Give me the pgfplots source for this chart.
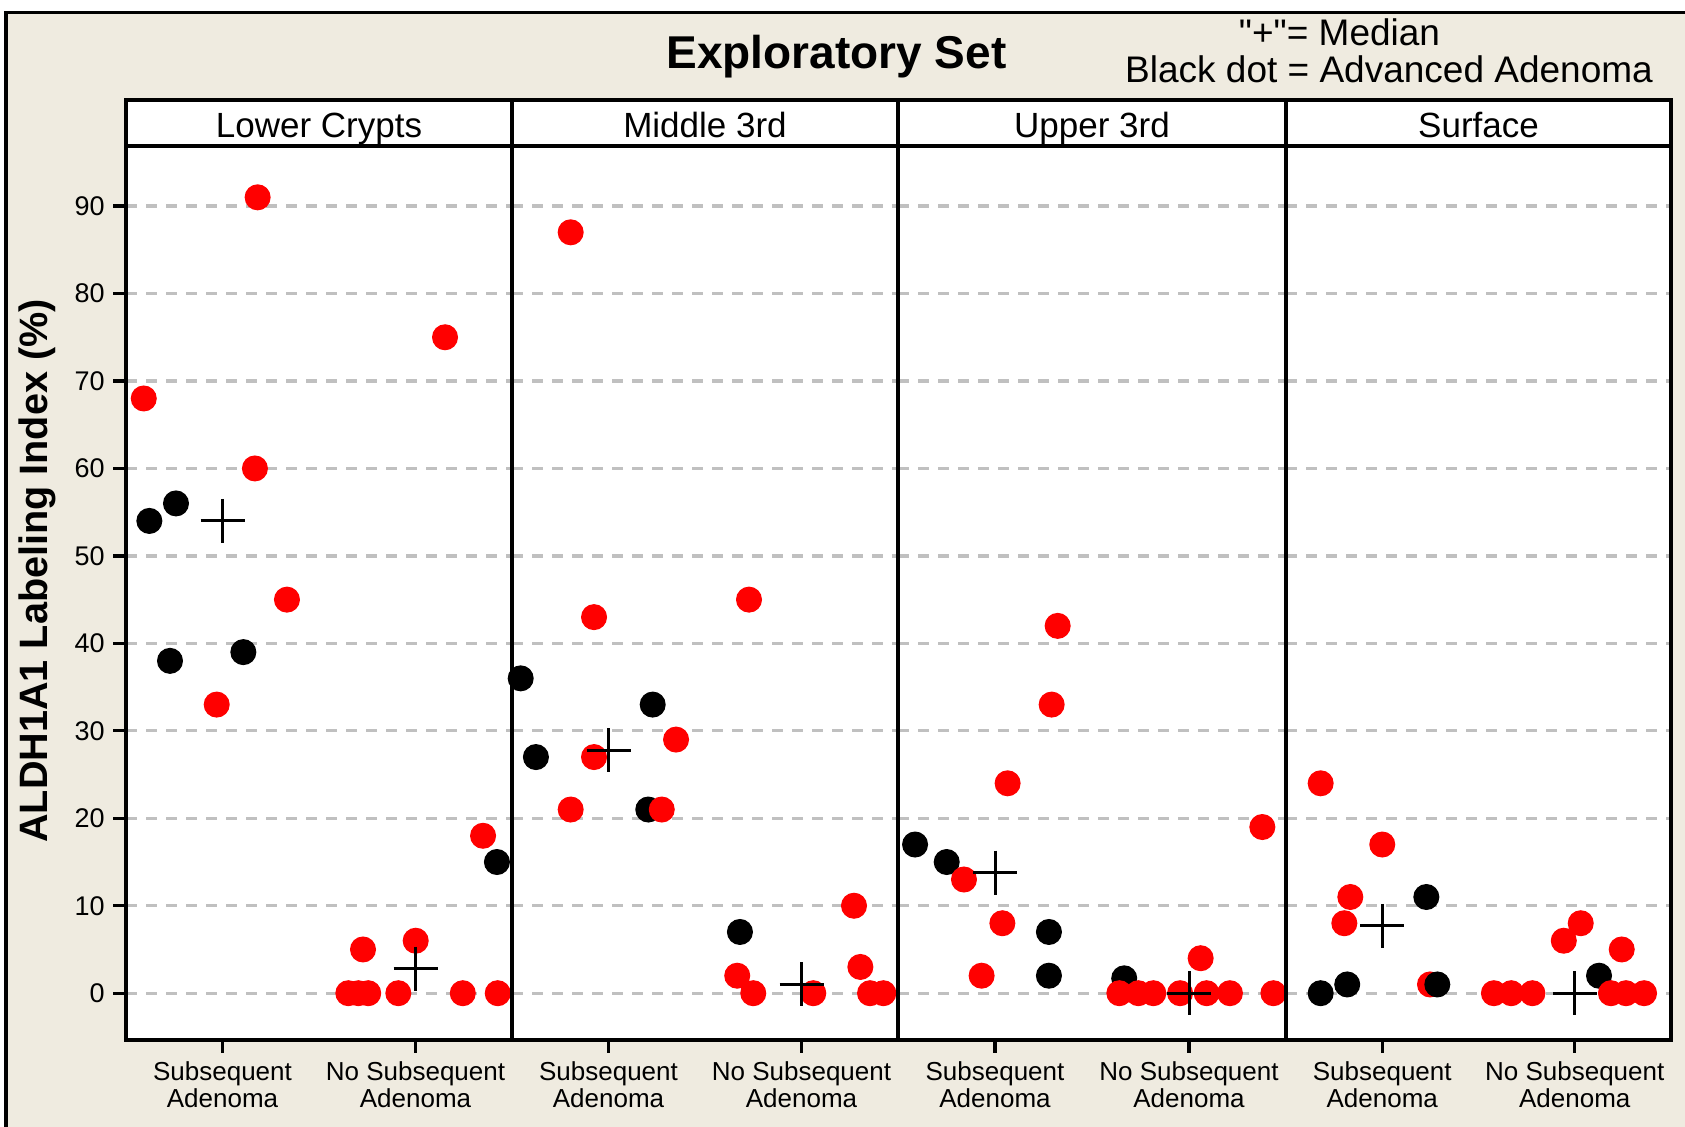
\documentclass[border=0pt]{standalone}
\usepackage{fontspec}
\setmainfont{Liberation Sans}[Ligatures=TeXOff]
\usepackage{pgfplots}
\pgfplotsset{compat=1.18}
\usetikzlibrary{calc}
\definecolor{bg}{RGB}{239,235,224}
\definecolor{gridgray}{RGB}{192,192,192}
\pgfplotsset{
  panel/.style={
    scale only axis, height=447pt, anchor=south west,
    xmin=0.5, xmax=2.5, ymin=-5.35, ymax=96.87,
    line width=1.7pt,
    axis line style={line width=1.7pt},
    axis background/.style={fill=white},
    xtick={1,2},
    xticklabels={{Subsequent\\Adenoma},{No Subsequent\\Adenoma}},
    xticklabel style={align=center, font=\fontsize{13}{13.5}\selectfont},
    ytick={0,10,...,90},
    ymajorgrids,
    major grid style={gridgray, line width=1.6pt, dash pattern=on 5.5pt off 4.5pt},
    tick align=outside, major tick length=6.5pt,
    tick style={black, line width=1.6pt},
    xtick pos=bottom, ytick pos=left,
    /pgf/number format/assume math mode=true,
    yticklabel style={font=\fontsize{13.5}{14}\selectfont},
  },
  noy/.style={yticklabels={}, ytick style={draw=none}},
  reddot/.style={only marks, color=red, mark=*, mark size=6.2pt, mark options={draw=red, fill=red, line width=0.6pt}},
  blackdot/.style={only marks, color=black, mark=*, mark size=6.2pt, mark options={draw=black, fill=black, line width=0.6pt}},
  median/.style={only marks, color=black, mark=+, mark size=11pt, mark options={line width=1.5pt, draw=black}},
}
\begin{document}
\begin{tikzpicture}
\path[use as bounding box, fill=white] (0,0) rectangle (842.5pt,563.5pt);
\fill[bg] (3pt,0) rectangle (842.5pt,557.2pt);
\draw[line width=1.7pt] (3pt,0) -- (3pt,557.2pt) -- (842.5pt,557.2pt);

% Lower Crypts
\begin{axis}[panel, at={(63pt,43.5pt)}, width=193pt]
\addplot[blackdot] coordinates {(0.759,56) (0.621,54) (0.728,38) (1.108,39) (2.422,15)};
\addplot[reddot] coordinates {(1.182,91) (2.153,75) (0.592,68) (1.168,60) (1.334,45) (0.970,33) (2.350,18) (1.728,5) (2.001,6) (1.652,0) (1.704,0) (1.755,0) (1.911,0) (2.245,0) (2.426,0)};
\addplot[median] coordinates {(1,54) (2,2.8)};
\end{axis}

% Middle 3rd
\begin{axis}[panel, noy, at={(256pt,43.5pt)}, width=193pt]
\addplot[blackdot] coordinates {(0.545,36) (1.229,33) (0.624,27) (1.206,21) (1.681,7)};
\addplot[reddot] coordinates {(0.804,87) (0.925,43) (1.728,45) (1.350,29) (0.925,27) (0.804,21) (1.276,21) (2.272,10) (1.667,2) (1.750,0) (2.061,0) (2.305,3) (2.355,0) (2.424,0)};
\addplot[median] coordinates {(1,27.8) (2,1)};
\end{axis}

% Upper 3rd
\begin{axis}[panel, noy, at={(449pt,43.5pt)}, width=194pt]
\addplot[blackdot] coordinates {(0.588,17) (0.751,15) (1.278,7) (1.278,2) (1.666,1.7)};
\addplot[reddot] coordinates {(1.323,42) (1.292,33) (1.065,24) (2.378,19) (0.840,13) (1.038,8) (0.931,2) (2.060,4) (1.641,0) (1.739,0) (1.816,0) (1.954,0) (2.091,0) (2.211,0) (2.435,0)};
\addplot[median] coordinates {(1,13.8) (2,0)};
\end{axis}

% Surface
\begin{axis}[panel, noy, at={(643pt,43.5pt)}, width=192.5pt]
\addplot[blackdot] coordinates {(0.680,0) (0.818,1) (1.229,11) (2.126,2)};
\addplot[reddot] coordinates {(0.680,24) (1.000,17) (0.834,11) (0.803,8) (1.248,1) (1.58,0) (1.67,0) (1.78,0) (2.188,0) (2.266,0) (2.360,0) (2.031,8) (1.943,6) (2.244,5)};
\addplot[blackdot] coordinates {(1.286,1)};
\addplot[median] coordinates {(1,7.7) (2,0)};
\end{axis}

% strips
\foreach \a/\b/\t in {63pt/256pt/Lower Crypts, 256pt/449pt/Middle 3rd, 449pt/643pt/Upper 3rd, 643pt/835.5pt/Surface}{
  \draw[line width=1.7pt, fill=white] (\a,490.5pt) rectangle (\b,513.5pt);
  \node[anchor=base, font=\fontsize{17.5}{18}\selectfont, inner sep=0pt] at ($(\a,494.5pt)!0.5!(\b,494.5pt)$) {\t};
}

\node[anchor=base, font=\bfseries\fontsize{23}{24}\selectfont, inner sep=0pt] at (418.25pt,529pt) {Exploratory Set};
\node[anchor=base, font=\fontsize{18.5}{19}\selectfont, inner sep=0pt] at (669.75pt,540.5pt) {"+"= Median};
\node[anchor=base, font=\fontsize{18.5}{19}\selectfont, inner sep=0pt] at (694.5pt,522pt) {Black dot = Advanced Adenoma};
\node[rotate=90, font=\bfseries\fontsize{19.8}{20}\selectfont, inner sep=0pt] at (18.5pt,278pt) {ALDH1A1 Labeling Index (\%)};
\end{tikzpicture}
\end{document}
